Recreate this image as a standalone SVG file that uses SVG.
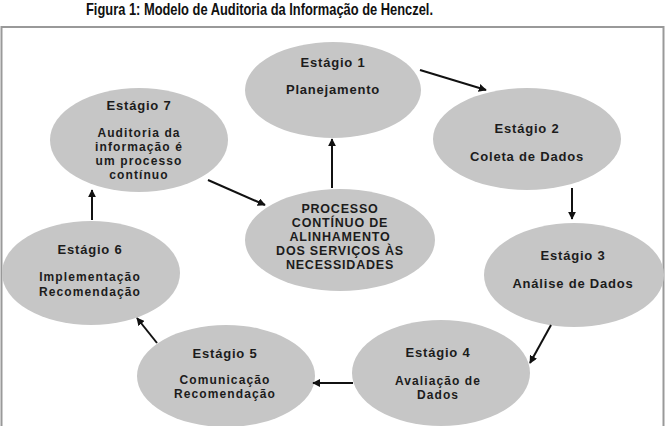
<svg xmlns="http://www.w3.org/2000/svg" width="670" height="426" viewBox="0 0 670 426">
<defs>
<marker id="ah" viewBox="0 0 10 10" refX="9" refY="5" markerWidth="4" markerHeight="4" orient="auto" markerUnits="strokeWidth">
<path d="M0,0 L10,5 L0,10 z" fill="#111"/>
</marker>
<style>
.bg{fill:#fff}
.frame{fill:none;stroke:#999;stroke-width:2}
.node ellipse{fill:#c6c6c6}
.node text{font-family:"Liberation Sans",Arial,sans-serif;font-weight:bold;font-size:13px;fill:#1c1c1c;text-anchor:middle;letter-spacing:0.8px}
.node text.m{font-size:12px;letter-spacing:1.1px}
.node.center text{font-size:12.5px;letter-spacing:0.8px}
.title{font-family:"Liberation Sans",Arial,sans-serif;font-weight:bold;font-size:17px;fill:#111}
.conn line{stroke:#111;stroke-width:2;marker-end:url(#ah)}
</style>
</defs>
<rect class="bg" x="0" y="0" width="670" height="426"/>
<text class="title" x="86" y="15" textLength="347" lengthAdjust="spacingAndGlyphs">Figura 1: Modelo de Auditoria da Informação de Henczel.</text>
<rect class="frame" x="1.5" y="27" width="662" height="410"/>

<g id="stage1" class="node"><ellipse cx="333" cy="90" rx="88" ry="48"/>
<text x="333" y="67">Estágio 1</text><text x="333" y="94">Planejamento</text></g>
<g id="stage2" class="node"><ellipse cx="527" cy="139" rx="94" ry="51"/>
<text x="527" y="133">Estágio 2</text><text x="527" y="161">Coleta de Dados</text></g>
<g id="stage3" class="node"><ellipse cx="574" cy="275" rx="90" ry="52"/>
<text x="573" y="260">Estágio 3</text><text x="573" y="288">Análise de Dados</text></g>
<g id="stage4" class="node"><ellipse cx="441" cy="373" rx="89" ry="53"/>
<text x="438" y="357">Estágio 4</text><text class="m" x="438" y="385">Avaliação de</text><text class="m" x="438" y="399">Dados</text></g>
<g id="stage5" class="node"><ellipse cx="226" cy="376" rx="89" ry="51"/>
<text x="225" y="358">Estágio 5</text><text class="m" x="225" y="384">Comunicação</text><text class="m" x="225" y="398">Recomendação</text></g>
<g id="stage6" class="node"><ellipse cx="91" cy="273" rx="89" ry="52"/>
<text x="90" y="254">Estágio 6</text><text class="m" x="90" y="281">Implementação</text><text class="m" x="90" y="296">Recomendação</text></g>
<g id="stage7" class="node"><ellipse cx="139" cy="140" rx="89" ry="52"/>
<text x="139" y="110">Estágio 7</text><text class="m" x="139" y="137">Auditoria da</text><text class="m" x="139" y="151">informação é</text><text class="m" x="139" y="165">um processo</text><text class="m" x="139" y="179">contínuo</text></g>
<g id="center" class="node center"><ellipse cx="340" cy="240" rx="95" ry="51"/>
<text x="340" y="213">PROCESSO</text><text x="340" y="227">CONTÍNUO DE</text><text x="340" y="241">ALINHAMENTO</text><text x="340" y="255">DOS SERVIÇOS ÀS</text><text x="340" y="269">NECESSIDADES</text></g>

<g id="connectors" class="conn">
<line x1="420" y1="70" x2="486" y2="90"/>
<line x1="572" y1="188" x2="572" y2="219"/>
<line x1="551" y1="325" x2="530" y2="363"/>
<line x1="353" y1="383" x2="313" y2="383"/>
<line x1="157" y1="343" x2="137" y2="318"/>
<line x1="92" y1="220" x2="92" y2="190"/>
<line x1="208" y1="180" x2="265" y2="205"/>
<line x1="332" y1="188" x2="332" y2="139"/>
</g>
</svg>
